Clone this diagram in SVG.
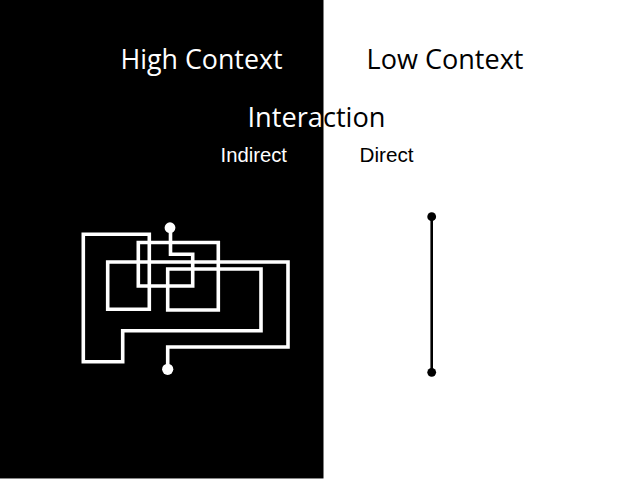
<svg xmlns="http://www.w3.org/2000/svg" width="638" height="479" viewBox="0 0 638 479">
  <style>
    .title { font-family: "Open Sans", "Noto Sans", sans-serif; font-size: 27px; }
    .sub { font-family: "Liberation Sans", Arial, sans-serif; font-size: 20px; }
    .maze { fill: none; stroke: #ffffff; stroke-width: 3.6; stroke-linejoin: miter; stroke-linecap: square; }
    .direct { fill: none; stroke: #000000; stroke-width: 2.6; }
  </style>
  <defs>
    <clipPath id="leftHalf"><rect x="0" y="0" width="323.5" height="479"/></clipPath>
    <clipPath id="rightHalf"><rect x="323.5" y="0" width="314.5" height="479"/></clipPath>
  </defs>
  <rect x="0" y="0" width="638" height="479" fill="#ffffff"/>
  <rect id="dark-side" x="0" y="0" width="323.5" height="478" fill="#000000"/>
  <line x1="0" y1="478.5" x2="323.5" y2="478.5" stroke="#888888" stroke-width="1"/>

  <g id="high-context">
    <text class="title" x="120.5" y="69" fill="#ffffff" textLength="162" lengthAdjust="spacingAndGlyphs">High Context</text>
  </g>
  <g id="low-context">
    <text class="title" x="366.5" y="69" fill="#000000" textLength="157" lengthAdjust="spacingAndGlyphs">Low Context</text>
  </g>
  <g id="interaction">
    <text class="title" x="247.5" y="126.5" fill="#ffffff" textLength="138" lengthAdjust="spacingAndGlyphs" clip-path="url(#leftHalf)">Interaction</text>
    <text class="title" x="247.5" y="126.5" fill="#000000" textLength="138" lengthAdjust="spacingAndGlyphs" clip-path="url(#rightHalf)">Interaction</text>
  </g>
  <g id="indirect">
    <text class="sub" x="220.5" y="161.5" fill="#ffffff" textLength="66.5" lengthAdjust="spacingAndGlyphs">Indirect</text>
  </g>
  <g id="direct">
    <text class="sub" x="359.5" y="161.5" fill="#000000" textLength="54" lengthAdjust="spacingAndGlyphs">Direct</text>
  </g>

  <g id="connectors">
    <g id="indirect-path">
      <path class="maze" d="M170.5,228 V254.3 H192.7 V286 H138.3 V242.5 H218.3 V310 H167.7 V269 H261 V330.7 H122.7 V361.7 H83.3 V234.3 H149.3 V309.3 H107.7 V262 H288 V347 H167.7 V369"/>
      <circle cx="170" cy="227.7" r="5.4" fill="#ffffff"/>
      <circle cx="167.7" cy="369.3" r="5.6" fill="#ffffff"/>
    </g>
    <g id="direct-path">
      <line class="direct" x1="431.7" y1="216.7" x2="431.7" y2="372.3"/>
      <circle cx="431.7" cy="216.7" r="4.4" fill="#000000"/>
      <circle cx="431.7" cy="372.3" r="4.4" fill="#000000"/>
    </g>
  </g>
</svg>
